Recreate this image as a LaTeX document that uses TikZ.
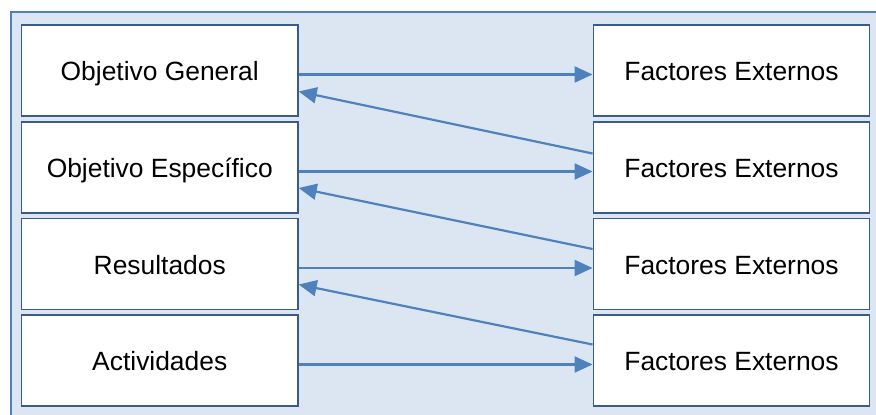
\documentclass[tikz,border=0pt]{standalone}
\usepackage{fontspec}
\setmainfont{Liberation Sans}
\usetikzlibrary{arrows.meta}
\definecolor{framefill}{HTML}{DCE6F2}
\definecolor{frameline}{HTML}{4F81BD}
\definecolor{boxline}{HTML}{385D8A}
\begin{document}
\begin{tikzpicture}[x=1pt, y=-1pt, >={Triangle[length=18pt, width=16pt]},
    box/.style={rectangle, draw=boxline, line width=1.4pt, fill=white, minimum width=276.5pt, minimum height=91pt, inner sep=0pt, text height=20.9pt, text depth=0pt, font=\fontsize{26.4}{30}\selectfont},
    link/.style={->, draw=frameline, line width=2.2pt}]
    \useasboundingbox (0,0) rectangle (876,415);
    % Background frame
    \draw[fill=framefill, draw=frameline, line width=2pt] (11,12) rectangle (890,430);

    % Define boxes
    \node[box] (og) at (159.75, 70.5) {Objetivo General};
    \node[box] (oe) at (159.75, 167.5) {Objetivo Específico};
    \node[box] (res) at (159.75, 264) {Resultados};
    \node[box] (act) at (159.75, 360.5) {Actividades};
    \node[box] (fe1) at (731.5, 70.5) {Factores Externos};
    \node[box] (fe2) at (731.5, 167.5) {Factores Externos};
    \node[box] (fe3) at (731.5, 264) {Factores Externos};
    \node[box] (fe4) at (731.5, 360.5) {Factores Externos};

    % Draw links
    \draw[link] ([yshift=-4pt]og.east) -- ([yshift=-4pt]fe1.west);
    \draw[link] ([yshift=-4pt]oe.east) -- ([yshift=-4pt]fe2.west);
    \draw[link] ([yshift=-4pt]res.east) -- ([yshift=-4pt]fe3.west);
    \draw[link] ([yshift=-4pt]act.east) -- ([yshift=-4pt]fe4.west);
    \draw[link] ([yshift=14pt]fe2.west) -- ([yshift=-21pt]og.east);
    \draw[link] ([yshift=15pt]fe3.west) -- ([yshift=-20.5pt]oe.east);
    \draw[link] ([yshift=16pt]fe4.west) -- ([yshift=-20.5pt]res.east);
\end{tikzpicture}
\end{document}
